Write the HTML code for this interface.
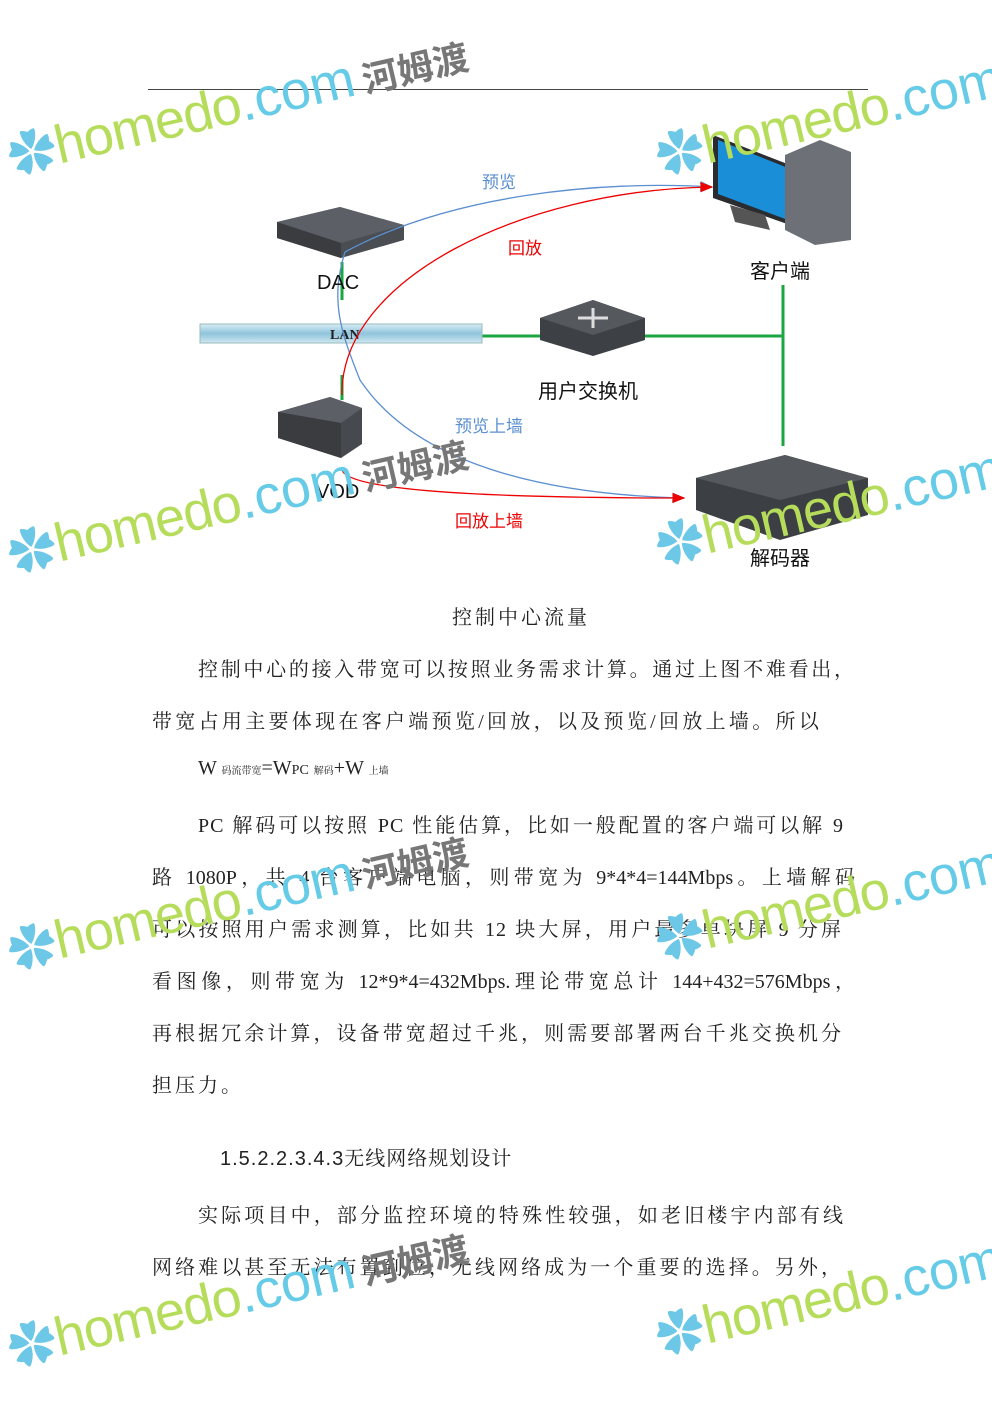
<!DOCTYPE html>
<html><head><meta charset="utf-8"><style>
body{margin:0;width:992px;height:1403px;background:#fff;position:relative;overflow:hidden;font-family:"Liberation Serif","Noto Serif CJK SC",serif;}
.l{position:absolute;font-size:20px;color:#222;white-space:nowrap;letter-spacing:3px}
.j{text-align:justify;text-align-last:justify;white-space:normal;width:703px;left:152px;letter-spacing:1px}
.wm{position:absolute;transform:rotate(-13deg);transform-origin:0 0;white-space:nowrap;font-family:"Liberation Sans","Noto Sans CJK SC",sans-serif;pointer-events:none}
.wm .f{color:#6cc8e6;font-size:48px}
.wm .h{font-size:54px;color:#b5dc5a;letter-spacing:-1px}
.wm .c{font-size:54px;color:#66cbe6}
.wm .z{font-size:36px;color:#777;font-weight:bold;margin-left:8px}
.lab{position:absolute;font-family:"Liberation Sans","Noto Sans CJK SC",sans-serif;font-size:20px;color:#111}
</style></head><body>
<div style="position:absolute;left:148px;top:89px;width:720px;height:1px;background:#444"></div>

<svg width="992" height="600" style="position:absolute;left:0;top:0">
<defs>
<linearGradient id="lan" x1="0" y1="0" x2="0" y2="1"><stop offset="0" stop-color="#d8eef6"/><stop offset=".5" stop-color="#8fc4dc"/><stop offset="1" stop-color="#cfe7f1"/></linearGradient>
<marker id="ar" markerWidth="10" markerHeight="10" refX="9" refY="5" orient="auto"><path d="M0,1L10,5L0,9z" fill="#e00"/></marker>
<marker id="ab" markerWidth="10" markerHeight="10" refX="9" refY="5" orient="auto"><path d="M0,1L10,5L0,9z" fill="#5b8fd0"/></marker>
</defs>
<g stroke="#1aa640" stroke-width="3" fill="none">
<line x1="342" y1="262" x2="342" y2="300"/><line x1="342" y1="375" x2="342" y2="400"/>
<line x1="482" y1="336" x2="540" y2="336"/><line x1="645" y1="336" x2="783" y2="336"/>
<line x1="783" y1="285" x2="783" y2="446"/>
</g>
<rect x="200" y="324" width="282" height="19" fill="url(#lan)" stroke="#9bb" stroke-width="1"/>
<text x="330" y="339" font-family="Liberation Serif" font-size="14" font-weight="bold" fill="#222">LAN</text>
<!-- DAC -->
<polygon points="277,222 340,207 404,225 404,240 341,258 277,238" fill="#4a4d52"/>
<polygon points="277,222 340,207 404,225 341,243" fill="#5c6066"/>
<polygon points="277,238 341,258 341,243 277,222" fill="#3a3c40"/>
<!-- VOD -->
<polygon points="278,412 330,397 362,408 362,444 341,458 278,438" fill="#46494e"/>
<polygon points="278,412 330,397 362,408 341,423" fill="#5c6066"/>
<polygon points="278,438 341,458 341,423 278,412" fill="#3a3c40"/>
<!-- switch -->
<polygon points="540,318 593,300 645,318 645,340 593,356 540,340" fill="#3d4044"/>
<polygon points="540,318 593,300 645,318 593,335" fill="#55595e"/>
<path d="M578,318h30M593,308v20" stroke="#ddd" stroke-width="3"/>
<!-- PC -->
<polygon points="713,135 790,165 790,225 713,198" fill="#2a2c30"/>
<polygon points="718,140 788,168 788,220 718,194" fill="#1a8fd8"/>
<polygon points="785,155 820,140 851,152 851,240 815,245 785,230" fill="#6d7177"/>
<polygon points="730,205 765,215 770,230 735,222" fill="#555"/>
<!-- decoder -->
<polygon points="696,478 785,455 868,478 868,515 780,540 696,510" fill="#3c3f43"/>
<polygon points="696,478 785,455 868,478 780,500" fill="#55595e"/>
<!-- curves -->
<path d="M345,252 C450,195 600,180 712,187" stroke="#5b8fd0" stroke-width="1.3" fill="none" marker-end="url(#ab)"/>
<path d="M345,252 C330,300 340,330 360,380 C420,470 560,495 684,498" stroke="#5b8fd0" stroke-width="1.3" fill="none" marker-end="url(#ab)"/>
<path d="M342,395 C340,280 520,190 712,187" stroke="#e00" stroke-width="1.3" fill="none" marker-end="url(#ar)"/>
<path d="M342,470 C350,495 550,498 684,498" stroke="#e00" stroke-width="1.3" fill="none" marker-end="url(#ar)"/>
</svg>
<div class="lab" style="left:482px;top:168px;font-size:17px;color:#5b8fd0">预览</div>
<div class="lab" style="left:508px;top:234px;font-size:17px;color:#e00">回放</div>
<div class="lab" style="left:317px;top:272px">DAC</div>
<div class="lab" style="left:750px;top:255px">客户端</div>
<div class="lab" style="left:538px;top:375px">用户交换机</div>
<div class="lab" style="left:455px;top:412px;font-size:17px;color:#5b8fd0">预览上墙</div>
<div class="lab" style="left:316px;top:481px">VOD</div>
<div class="lab" style="left:455px;top:507px;font-size:17px;color:#e00">回放上墙</div>
<div class="lab" style="left:750px;top:542px">解码器</div>

<div class="l" style="left:452px;top:601px">控制中心流量</div>
<div class="l j" style="top:653px;left:198px;width:657px">控制中心的接入带宽可以按照业务需求计算。通过上图不难看出，</div>
<div class="l" style="left:152px;top:705px;letter-spacing:3.3px">带宽占用主要体现在客户端预览/回放，以及预览/回放上墙。所以</div>
<div class="l" style="left:198px;top:757px;letter-spacing:0">W <span style="font-size:10px">码流带宽</span>=W<span style="font-size:14px">PC</span> <span style="font-size:10px">解码</span>+W <span style="font-size:10px">上墙</span></div>
<div class="l j" style="top:809px;left:198px;width:646px">PC 解码可以按照 PC 性能估算，比如一般配置的客户端可以解 9</div>
<div class="l j" style="top:861px;letter-spacing:0">路 1080P，共 4 台客户端电脑，则带宽为 9*4*4=144Mbps。上墙解码</div>
<div class="l j" style="top:913px;width:690px">可以按照用户需求测算，比如共 12 块大屏，用户最多单块屏 9 分屏</div>
<div class="l j" style="top:965px;letter-spacing:0">看图像，则带宽为 12*9*4=432Mbps.理论带宽总计 144+432=576Mbps，</div>
<div class="l j" style="top:1017px;width:690px">再根据冗余计算，设备带宽超过千兆，则需要部署两台千兆交换机分</div>
<div class="l" style="left:152px;top:1069px">担压力。</div>
<div class="l" style="left:220px;top:1142px;font-family:'Liberation Sans','Noto Serif CJK SC',serif;letter-spacing:1px">1.5.2.2.3.4.3无线网络规划设计</div>
<div class="l j" style="top:1199px;left:198px;width:646px">实际项目中，部分监控环境的特殊性较强，如老旧楼宇内部有线</div>
<div class="l j" style="top:1251px;width:690px">网络难以甚至无法布置到位，无线网络成为一个重要的选择。另外，</div>

<!-- watermarks -->
<div class="wm" style="left:0px;top:120px"><span class="f">✿</span><span class="h">homedo</span><span class="c">.com</span><span class="z">河姆渡</span></div>
<div class="wm" style="left:648px;top:120px"><span class="f">✿</span><span class="h">homedo</span><span class="c">.com</span></div>
<div class="wm" style="left:0px;top:518px"><span class="f">✿</span><span class="h">homedo</span><span class="c">.com</span><span class="z">河姆渡</span></div>
<div class="wm" style="left:648px;top:510px"><span class="f">✿</span><span class="h">homedo</span><span class="c">.com</span></div>
<div class="wm" style="left:0px;top:915px"><span class="f">✿</span><span class="h">homedo</span><span class="c">.com</span><span class="z">河姆渡</span></div>
<div class="wm" style="left:648px;top:905px"><span class="f">✿</span><span class="h">homedo</span><span class="c">.com</span></div>
<div class="wm" style="left:0px;top:1312px"><span class="f">✿</span><span class="h">homedo</span><span class="c">.com</span><span class="z">河姆渡</span></div>
<div class="wm" style="left:648px;top:1300px"><span class="f">✿</span><span class="h">homedo</span><span class="c">.com</span></div>
</body></html>
